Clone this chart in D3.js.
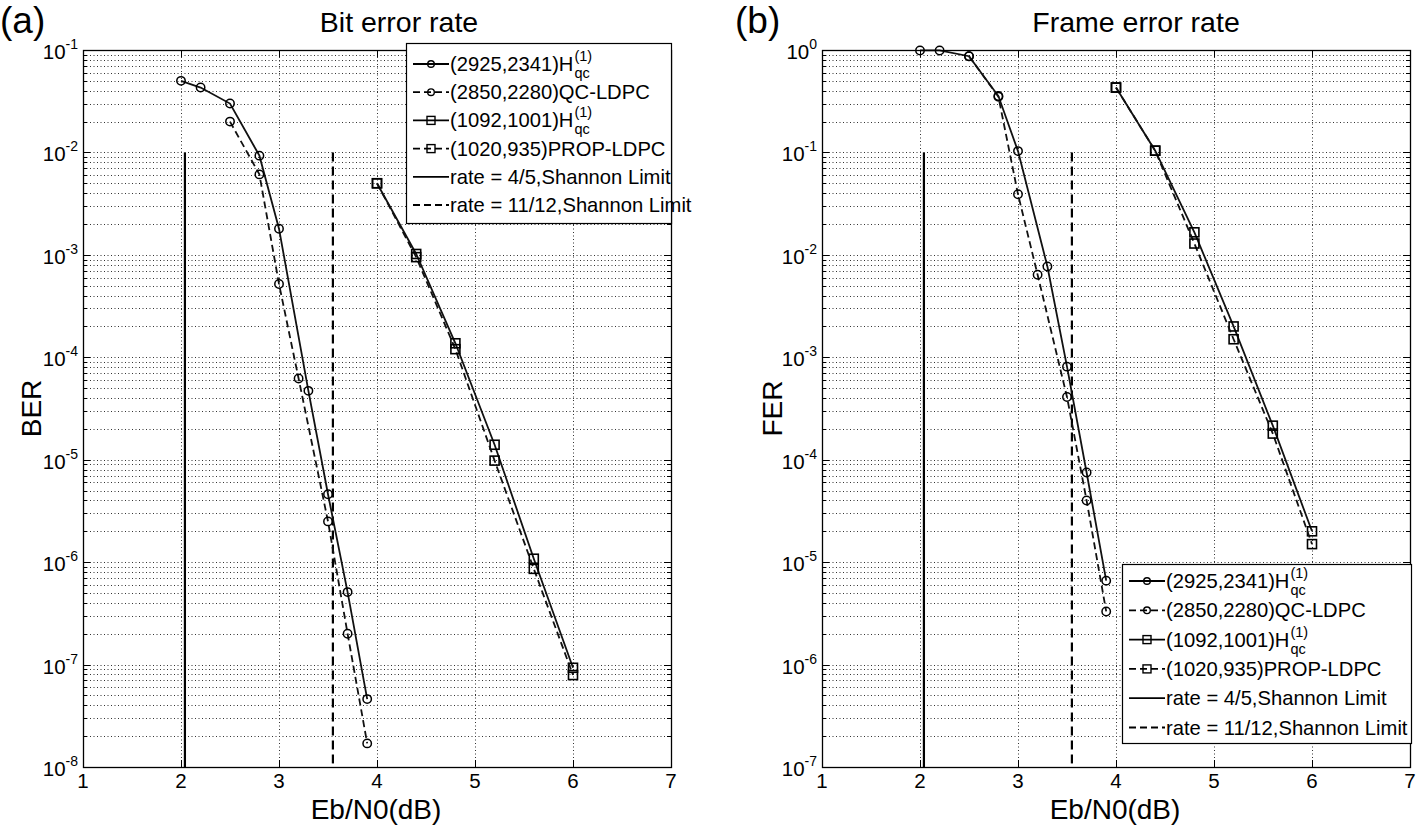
<!DOCTYPE html>
<html><head><meta charset="utf-8">
<script src="https://cdn.jsdelivr.net/npm/d3@7"></script>
<style>
body{margin:0;background:#fff}
svg text{font-family:"Liberation Sans",Arial,Helvetica,sans-serif;fill:#000}
</style>
</head><body>
<svg id="chart" width="1416" height="826"></svg>
<script>
// ---------- data ----------
const xTicks = [1,2,3,4,5,6,7];
const ebn0A = [2,2.2,2.5,2.8,3.0,3.3,3.5,3.7,3.9];          // (2925,2341) H_qc
const ebn0B = [2.5,2.8,3.0,3.2,3.5,3.7,3.9];               // (2850,2280) QC-LDPC
const ebn0C = [4,4.4,4.8,5.2,5.6,6];                       // (1092,1001) H_qc
const ebn0D = [4,4.4,4.8,5.2,5.6,6];                       // (1020,935) PROP-LDPC

const berA = [0.05,0.043,0.03,0.0093,0.0018,4.7e-5,4.6e-6,5.1e-7,4.6e-8];
const berB = [0.02,0.0061,5.2e-4,6.2e-5,2.5e-6,2.0e-7,1.7e-8];
const berC = [0.005,1.02e-3,1.37e-4,1.4e-5,1.08e-6,9.3e-8];
const berD = [0.005,9.5e-4,1.2e-4,9.8e-6,8.6e-7,7.9e-8];

const ferA = [0.99,0.99,0.87,0.355,0.103,7.7e-3,8.1e-4,7.5e-5,6.6e-6];
const ferB = [0.87,0.35,0.039,6.4e-3,4.1e-4,4.0e-5,3.3e-6];
const ferC = [0.43,0.104,0.0166,2.0e-3,2.15e-4,2.0e-5];
const ferD = [0.43,0.104,0.0129,1.5e-3,1.8e-4,1.5e-5];

const shannonX = [2.04, 3.55];        // rate 4/5, rate 11/12
const shannonTopBER = 1e-2;
const shannonTopFER = 1e-1;

const berExponents = [-1,-2,-3,-4,-5,-6,-7,-8];
const ferExponents = [0,-1,-2,-3,-4,-5,-6,-7];

const legendLabels = [
  {pre:"(2925,2341)H", h:true},
  {pre:"(2850,2280)QC-LDPC", h:false},
  {pre:"(1092,1001)H", h:true},
  {pre:"(1020,935)PROP-LDPC", h:false},
  {pre:"rate = 4/5,Shannon Limit", h:false},
  {pre:"rate = 11/12,Shannon Limit", h:false}
];

// ---------- drawing ----------
const svg = d3.select("#chart");

function drawPanel(cfg){
  const g = svg.append("g");
  const x = d3.scaleLinear().domain([1,7]).range([cfg.left,cfg.right]);
  const y = d3.scaleLog().domain([Math.pow(10,d3.min(cfg.exps)),Math.pow(10,d3.max(cfg.exps))]).range([cfg.bottom,cfg.top]);

  const emin = d3.min(cfg.exps), emax = d3.max(cfg.exps);
  const gridY = [];
  for(let e=emin;e<emax;e++){ for(let m=1;m<=9;m++){ gridY.push({v:m*Math.pow(10,e),major:m===1}); } }
  gridY.push({v:Math.pow(10,emax),major:true});

  const grid = g.append("g").attr("stroke","#333").attr("stroke-width",1).attr("stroke-dasharray","1,2.5").attr("fill","none");
  grid.selectAll("line.gy").data(gridY.filter(d=>d.v<Math.pow(10,emax) && d.v>Math.pow(10,emin))).enter().append("line")
    .attr("x1",cfg.left).attr("x2",cfg.right).attr("y1",d=>Math.round(y(d.v))+0.5).attr("y2",d=>Math.round(y(d.v))+0.5);
  grid.selectAll("line.gx").data(xTicks.slice(1,-1)).enter().append("line")
    .attr("y1",cfg.top).attr("y2",cfg.bottom).attr("x1",d=>Math.round(x(d))+0.5).attr("x2",d=>Math.round(x(d))+0.5);

  // ticks
  const tk = g.append("g").attr("stroke","#000").attr("stroke-width",1);
  gridY.forEach(d=>{
    const yy = Math.round(y(d.v))+0.5, L = d.major?7:4;
    tk.append("line").attr("x1",cfg.left).attr("x2",cfg.left+L).attr("y1",yy).attr("y2",yy);
    tk.append("line").attr("x1",cfg.right).attr("x2",cfg.right-L).attr("y1",yy).attr("y2",yy);
  });
  xTicks.forEach(d=>{
    const xx = Math.round(x(d))+0.5;
    tk.append("line").attr("x1",xx).attr("x2",xx).attr("y1",cfg.bottom).attr("y2",cfg.bottom-7);
    tk.append("line").attr("x1",xx).attr("x2",xx).attr("y1",cfg.top).attr("y2",cfg.top+7);
  });

  // tick labels
  g.selectAll("text.xt").data(xTicks).enter().append("text")
    .attr("x",d=>x(d)).attr("y",cfg.bottom+21).attr("text-anchor","middle").attr("font-size",20.5).text(d=>d);
  cfg.exps.forEach(e=>{
    const t = g.append("text").attr("x",cfg.left-5).attr("y",y(Math.pow(10,e))+9).attr("text-anchor","end").attr("font-size",20.5);
    t.append("tspan").text("10");
    t.append("tspan").attr("dy",-10).attr("font-size",14).text(e);
  });

  // shannon limit vertical lines
  g.append("line").attr("x1",x(shannonX[0])).attr("x2",x(shannonX[0])).attr("y1",y(cfg.shTop)).attr("y2",cfg.bottom)
    .attr("stroke","#000").attr("stroke-width",2.2);
  g.append("line").attr("x1",x(shannonX[1])).attr("x2",x(shannonX[1])).attr("y1",y(cfg.shTop)).attr("y2",cfg.bottom)
    .attr("stroke","#000").attr("stroke-width",2.2).attr("stroke-dasharray","9,5");

  // series
  const line = d3.line().x(d=>x(d[0])).y(d=>y(d[1]));
  cfg.series.forEach(s=>{
    const pts = d3.zip(s.x,s.y);
    g.append("path").attr("d",line(pts)).attr("fill","none").attr("stroke","#111").attr("stroke-width",1.8)
      .attr("stroke-dasharray",s.dash?"7,4":null);
    if(s.marker==="o"){
      g.selectAll(null).data(pts).enter().append("circle").attr("cx",d=>x(d[0])).attr("cy",d=>y(d[1])).attr("r",4.2)
        .attr("fill","none").attr("stroke","#000").attr("stroke-width",1.5);
    } else {
      g.selectAll(null).data(pts).enter().append("rect").attr("x",d=>x(d[0])-4.5).attr("y",d=>y(d[1])-4.5)
        .attr("width",9).attr("height",9).attr("fill","none").attr("stroke","#000").attr("stroke-width",1.6);
    }
  });

  // frame
  g.append("rect").attr("x",cfg.left+0.5).attr("y",cfg.top+0.5).attr("width",cfg.right-cfg.left).attr("height",cfg.bottom-cfg.top)
    .attr("fill","none").attr("stroke","#000").attr("stroke-width",1.3);

  // titles / labels
  g.append("text").attr("x",cfg.titleX).attr("y",32).attr("text-anchor","middle").attr("font-size",28.5).text(cfg.title);
  g.append("text").attr("x",cfg.tagX).attr("y",33).attr("font-size",37).text(cfg.tag);
  g.append("text").attr("x",cfg.xLabelX).attr("y",cfg.bottom+52).attr("text-anchor","middle").attr("font-size",28).text("Eb/N0(dB)");
  g.append("text").attr("transform",`translate(${cfg.yLabelX},${(cfg.top+cfg.bottom)/2}) rotate(-90)`)
    .attr("text-anchor","middle").attr("font-size",28).text(cfg.ylabel);

  // legend
  const lg = cfg.legend;
  const L = g.append("g");
  L.append("rect").attr("x",lg.x+0.5).attr("y",lg.y+0.5).attr("width",lg.w).attr("height",lg.h).attr("fill","#fff").attr("stroke","#000").attr("stroke-width",1.2);
  const styles = [
    {dash:false,marker:"o"},{dash:true,marker:"o"},{dash:false,marker:"s"},{dash:true,marker:"s"},{dash:false,marker:null},{dash:true,marker:null}
  ];
  legendLabels.forEach((lab,i)=>{
    const cy = lg.y + lg.row0 + i*lg.step;
    const st = styles[i];
    const x0 = lg.x+7, x1 = lg.x+43, xm=(x0+x1)/2;
    L.append("line").attr("x1",x0).attr("x2",x1).attr("y1",cy).attr("y2",cy).attr("stroke","#000").attr("stroke-width",1.8)
      .attr("stroke-dasharray",st.dash?"7,4":null);
    if(st.marker==="o") L.append("circle").attr("cx",xm).attr("cy",cy).attr("r",3.3).attr("fill","none").attr("stroke","#000").attr("stroke-width",1.4);
    if(st.marker==="s") L.append("rect").attr("x",xm-4).attr("y",cy-4).attr("width",8).attr("height",8).attr("fill","none").attr("stroke","#000").attr("stroke-width",1.4);
    const t = L.append("text").attr("x",x1+1).attr("y",cy+7).attr("font-size",20.2).text(lab.pre);
    if(lab.h){
      const w = t.node().getComputedTextLength();
      L.append("text").attr("x",x1+1+w+1).attr("y",cy-3).attr("font-size",14.5).text("(1)");
      L.append("text").attr("x",x1+1+w+1).attr("y",cy+14).attr("font-size",14.5).text("qc");
    }
  });
}

drawPanel({
  left:83, right:671, top:50, bottom:767, exps:berExponents, shTop:shannonTopBER,
  title:"Bit error rate", titleX:399, tag:"(a)", tagX:0, ylabel:"BER", yLabelX:41, xLabelX:376,
  series:[
    {x:ebn0A,y:berA,dash:false,marker:"o"},
    {x:ebn0B,y:berB,dash:true,marker:"o"},
    {x:ebn0C,y:berC,dash:false,marker:"s"},
    {x:ebn0D,y:berD,dash:true,marker:"s"}
  ],
  legend:{x:406,y:43,w:265,h:180,row0:21,step:28.2}
});
drawPanel({
  left:822, right:1410, top:50, bottom:767, exps:ferExponents, shTop:shannonTopFER,
  title:"Frame error rate", titleX:1136, tag:"(b)", tagX:735, ylabel:"FER", yLabelX:782, xLabelX:1115,
  series:[
    {x:ebn0A,y:ferA,dash:false,marker:"o"},
    {x:ebn0B,y:ferB,dash:true,marker:"o"},
    {x:ebn0C,y:ferC,dash:false,marker:"s"},
    {x:ebn0D,y:ferD,dash:true,marker:"s"}
  ],
  legend:{x:1122,y:564,w:289,h:179,row0:17,step:29.3}
});
</script>
</body></html>
